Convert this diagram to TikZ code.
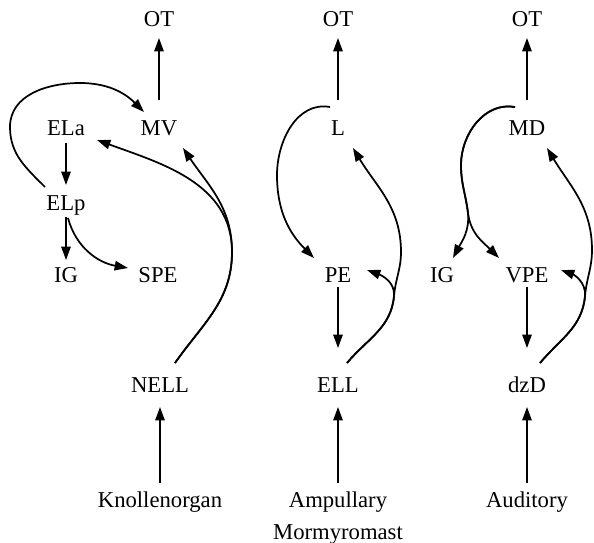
\documentclass[tikz,border=0pt]{standalone}
\usepackage{fontspec}
\setmainfont{Liberation Serif}
\usetikzlibrary{arrows.meta,calc}

\begin{document}
\begin{tikzpicture}[x=0.75pt,y=-0.75pt]
\tikzset{
	area/.style = {font=\fontsize{17}{24}\selectfont, inner sep=0, text height=11.25pt, text depth=0pt},
	organ/.style = {font=\fontsize{17}{24}\selectfont, inner sep=0, align=center, anchor=north},
	feed/.style = {line width=1.3pt, -{Triangle[length=10pt,width=7pt]}},
}
\useasboundingbox (0,0) rectangle (594,543);

% knollenorgan column
\node(OT1)[area] at (159,19) {OT};
\node(MV)[area] at (159,128) {MV};
\node(ELa)[area] at (66,128) {ELa};
\node(ELp)[area] at (66,203) {ELp};
\node(IG1)[area] at (66,275) {IG};
\node(SPE)[area] at (158,275) {SPE};
\node(NELL)[area] at (160,385) {NELL};
\node(Knoll)[organ] at (160,492) {Knollenorgan};

% ampullary column
\node(OT2)[area] at (338,19) {OT};
\node(L)[area] at (338,128) {L};
\node(PE)[area] at (338,275) {PE};
\node(ELL)[area] at (338,385) {ELL};
\node(Amp)[organ] at (338,492) {Ampullary\\Mormyromast};

% auditory column
\node(OT3)[area] at (527,19) {OT};
\node(MD)[area] at (527,128) {MD};
\node(IG3)[area] at (442,275) {IG};
\node(VPE)[area] at (527,275) {VPE};
\node(dzD)[area] at (527,385) {dzD};
\node(Aud)[organ] at (527,492) {Auditory};

\draw[feed] ($(MV)+(0,-28)$) -- ($(OT1)+(0,19)$);
\draw[feed] ($(ELa)+(0,15)$) -- ($(ELp)+(0,-18)$);
\draw[feed] ($(ELp)+(0,14)$) -- ($(IG1)+(0,-15)$);
\draw[feed] ($(ELp)+(2,15)$) to[out=-75,in=170] ($(SPE)+(-30,-7)$);
\draw[feed] ($(ELp)+(-21,-16)$) to[out=135,in=-90] (10,127) to[out=90,in=180] (80,83) to[out=0,in=135] ($(MV)+(-15,-16)$);
\draw[feed] ($(NELL)+(15,-22)$) to[out=55,in=-90] (232,252) to[out=90,in=-20] ($(ELa)+(31,12)$);
\draw[feed] ($(NELL)+(15,-22)$) to[out=55,in=-90] (232,252) to[out=90,in=-56] ($(MV)+(24,20)$);
\draw[feed] ($(Knoll.north)+(0,-9)$) -- ($(NELL)+(0,22)$);

\draw[feed] ($(L)+(0,-28)$) -- ($(OT2)+(0,19)$);
\draw[feed] ($(L)+(-8,-21)$) to[out=170,in=90] (277,175) to[out=-90,in=135] ($(PE)+(-24,-17)$);
\draw[feed] ($(PE)+(0,12)$) -- ($(ELL)+(0,-37)$);
\draw[feed] ($(ELL)+(9,-22)$) to[out=50,in=-95] (394,296) to[out=85,in=-90] (401,252) to[out=90,in=-59] ($(L)+(15,20)$);
\draw[feed] ($(ELL)+(9,-22)$) to[out=50,in=-95] (394,296) to[out=85,in=-20] ($(PE)+(29,-5)$);
\draw[feed] ($(Amp.north)+(0,-9)$) -- ($(ELL)+(0,22)$);

\draw[feed] ($(MD)+(0,-28)$) -- ($(OT3)+(0,19)$);
\draw[feed] ($(MD)+(-12,-21)$) to[out=170,in=90] (461,165) to[out=-90,in=97] (468,213) to[out=-83,in=135] ($(VPE)+(-28,-17)$);
\draw[feed] ($(MD)+(-12,-21)$) to[out=170,in=90] (461,165) to[out=-90,in=97] (468,213) to[out=-85,in=62] ($(IG3)+(11,-17)$);
\draw[feed] ($(VPE)+(0,12)$) -- ($(dzD)+(0,-37)$);
\draw[feed] ($(dzD)+(13,-22)$) to[out=50,in=-95] (585,296) to[out=85,in=-90] (592,250) to[out=90,in=-59] ($(MD)+(20,20)$);
\draw[feed] ($(dzD)+(13,-22)$) to[out=50,in=-95] (585,296) to[out=85,in=-20] ($(VPE)+(34,-5)$);
\draw[feed] ($(Aud.north)+(0,-9)$) -- ($(dzD)+(0,22)$);

\end{tikzpicture}
\end{document}
